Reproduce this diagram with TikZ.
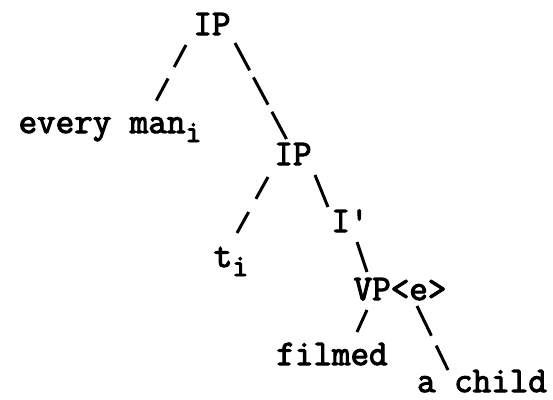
\documentclass[tikz,border=0pt]{standalone}
\usepackage{fontspec}
\newfontfamily\typed{Latin Modern Mono}[FakeBold=3]
\usepackage{tikz}
\newcommand{\idx}[1]{\raisebox{-9pt}{\fontsize{31}{34}\selectfont #1}}
\tikzset{x=1pt, y=-1pt,
every node/.style={ % Sets the properties for each category label
font=\typed\fontsize{36}{42}\selectfont,
inner sep=0pt,
anchor=base},
branch/.style={ % Typed slashes between mother and daughter
draw,
line width=3pt}}
\begin{document}
\begin{tikzpicture}
\useasboundingbox (0,0) rectangle (553,399);
\node (ip) at (212,35) {IP};
\node (every) at (110,133) {every man\idx{i}};
\node (ipb) at (293,165) {IP};
\node (trace) at (231,267) {t\idx{i}};
\node (ibar) at (350,232) {I'};
\node (vp) at (400,300) {VP<e>};
\node (filmed) at (332,365) {filmed};
\node (child) at (482,392) {a child};
\draw[branch, dash pattern=on 25pt off 13pt] ([xshift=-26pt,yshift=-10pt]ip.base) -- ([xshift=45pt,yshift=30pt]every.base);
\draw[branch, dash pattern=on 31pt off 8pt] ([xshift=23pt,yshift=-8pt]ip.base) -- ([xshift=-6pt,yshift=25pt]ipb.base);
\draw[branch, dash pattern=on 25pt off 15pt] ([xshift=-25pt,yshift=-12pt]ipb.base) -- ([xshift=6pt,yshift=34pt]trace.base);
\draw[branch] ([xshift=22pt,yshift=-10pt]ipb.base) -- ([xshift=-22pt,yshift=25pt]ibar.base);
\draw[branch] ([xshift=7pt,yshift=-10pt]ibar.base) -- ([xshift=-33pt,yshift=28pt]vp.base);
\draw[branch] ([xshift=-33pt,yshift=-10pt]vp.base) -- ([xshift=25pt,yshift=33pt]filmed.base);
\draw[branch, dash pattern=on 33pt off 11pt] ([xshift=17pt,yshift=-6pt]vp.base) -- ([xshift=-34pt,yshift=22pt]child.base);
\end{tikzpicture}
\end{document}
